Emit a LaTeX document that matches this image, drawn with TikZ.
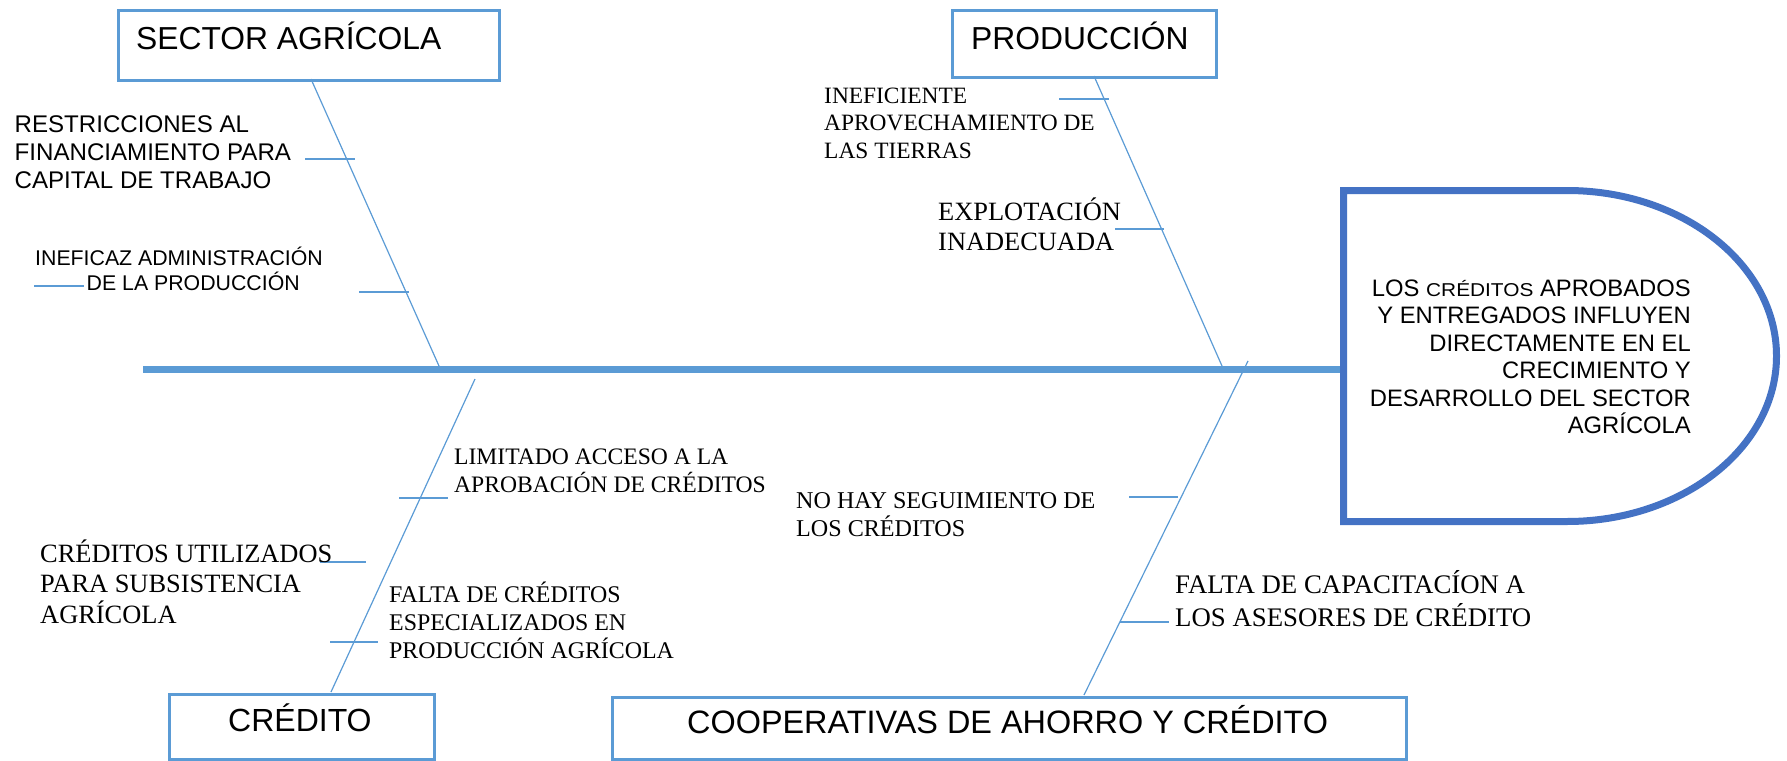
\documentclass[tikz,border=0pt]{standalone}
\usepackage{fontspec}
\setmainfont{Liberation Serif}
\newfontfamily\arialf{Liberation Sans}
\definecolor{lblue}{RGB}{91,155,213}
\definecolor{dblue}{RGB}{68,114,196}
\tikzset{
  catbox/.style={draw=lblue, line width=3pt, fill=white, inner sep=0pt, anchor=north west},
  bone/.style={draw=lblue, line width=1.2pt},
  ribline/.style={draw=lblue, line width=1.2pt},
  spine/.style={draw=lblue, line width=7pt},
  headshape/.style={draw=dblue, line width=7pt, fill=white},
  sanslbl/.style 2 args={font=\arialf\fontsize{#1}{#2}\selectfont, inner sep=0pt, align=left, anchor=base west},
  seriflbl/.style 2 args={font=\fontsize{#1}{#2}\selectfont, inner sep=0pt, align=left, anchor=base west}
}
\begin{document}
\begin{tikzpicture}[x=1pt,y=-1pt]
\useasboundingbox (0,0) rectangle (1787,760);
% category boxes
\node[catbox, minimum width=381pt, minimum height=69pt] (sa) at (116.5,9.5) {};
\node[catbox, minimum width=264pt, minimum height=66pt] (pr) at (950.5,9.5) {};
\node[catbox, minimum width=265pt, minimum height=65pt] (cr) at (167.5,692.5) {};
\node[catbox, minimum width=794pt, minimum height=62pt] (co) at (610.5,695.5) {};
\node[sanslbl={31.8}{36}] (saT) at (136,50) {SECTOR AGRÍCOLA};
\node[sanslbl={31.8}{36}] (prT) at (971,49) {PRODUCCIÓN};
\node[sanslbl={32}{36}] (crT) at (228,731) {CRÉDITO};
\node[sanslbl={32.4}{36}] (coT) at (687,733) {COOPERATIVAS DE AHORRO Y CRÉDITO};
% spine and head
\coordinate (tail) at (143,369.5);
\coordinate (headL) at (1343.5,369.5);
\draw[spine] (tail) -- (headL);
\draw[headshape] (1343.5,190.5) -- (1567,190.5)
  arc[start angle=-90, end angle=90, x radius=209.5, y radius=165.5]
  -- (1343.5,521.5) -- cycle;
\node[font=\arialf\fontsize{23.8}{27.5}\selectfont, inner sep=0pt, align=right, anchor=base east] (effect) at (1691,433.5)
  {LOS \scalebox{1.12}[1]{\fontsize{18.6}{27.5}\selectfont CRÉDITOS} APROBADOS\\
   Y ENTREGADOS INFLUYEN\\
   DIRECTAMENTE EN EL\\
   CRECIMIENTO Y\\
   DESARROLLO DEL SECTOR\\
   AGRÍCOLA};
% branch end points
\coordinate (saB) at (311,79);
\coordinate (saS) at (439,366);
\coordinate (prB) at (1094,76);
\coordinate (prS) at (1222,366);
\coordinate (crB) at (331,692);
\coordinate (crS) at (475,379);
\coordinate (coB) at (1084,695);
\coordinate (coS) at (1248,361);
\draw[bone] (saB) -- (saS);
\draw[bone] (prB) -- (prS);
\draw[bone] (crB) -- (crS);
\draw[bone] (coB) -- (coS);
% ribs
\draw[ribline] (305,159) -- (355,159);
\draw[ribline] (359,292) -- (409,292);
\draw[ribline] (34,286) -- (84,286);
\draw[ribline] (1059,99) -- (1109,99);
\draw[ribline] (1115,229) -- (1164,229);
\draw[ribline] (399,498) -- (448,498);
\draw[ribline] (320,562) -- (366,562);
\draw[ribline] (330,642) -- (378,642);
\draw[ribline] (1129,497) -- (1178,497);
\draw[ribline] (1120,622) -- (1169,622);
% cause labels (anchored at the baseline of their last line)
\node[sanslbl={24.1}{28}] (c1) at (14.5,188) {RESTRICCIONES AL\\FINANCIAMIENTO PARA\\CAPITAL DE TRABAJO};
\node[sanslbl={21.3}{25}] (c2) at (35,290) {INEFICAZ ADMINISTRACIÓN\\\hspace*{51.5pt}DE LA PRODUCCIÓN};
\node[seriflbl={23.4}{27.5}] (c3) at (824,158) {INEFICIENTE\\APROVECHAMIENTO DE\\LAS TIERRAS};
\node[seriflbl={26.4}{30}] (c4) at (938,250) {EXPLOTACIÓN\\INADECUADA};
\node[seriflbl={23.6}{28}] (c5) at (454,492) {LIMITADO ACCESO A LA\\APROBACIÓN DE CRÉDITOS};
\node[seriflbl={26.4}{30.5}] (c6) at (40,623) {CRÉDITOS UTILIZADOS\\PARA SUBSISTENCIA\\AGRÍCOLA};
\node[seriflbl={23.9}{28}] (c7) at (389,658) {FALTA DE CRÉDITOS\\ESPECIALIZADOS EN\\PRODUCCIÓN AGRÍCOLA};
\node[seriflbl={24.1}{28}] (c8) at (796,536) {NO HAY SEGUIMIENTO DE\\LOS CRÉDITOS};
\node[seriflbl={26.8}{33}] (c9) at (1175,626) {FALTA DE CAPACITACÍON A\\LOS ASESORES DE CRÉDITO};
\end{tikzpicture}
\end{document}
